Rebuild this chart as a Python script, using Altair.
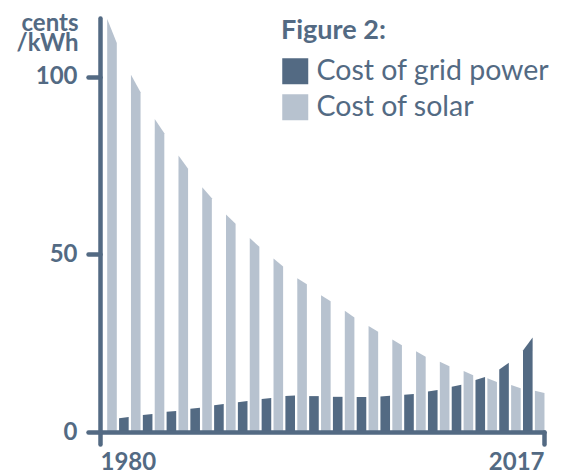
import altair as alt
import pandas as pd

# Values (cents/kWh), at the left and right edge of each bar
solar_start = [116.2, 100.5, 88.1, 77.8, 68.9, 61.2, 54.6, 48.8, 43.3, 38.5,
               34.1, 29.8, 26.0, 22.7, 19.8, 17.2, 15.1, 13.2, 11.6]
solar_end = [109.5, 95.6, 84.1, 74.1, 65.8, 58.6, 52.1, 46.6, 41.6, 36.8,
             32.2, 28.2, 24.4, 21.2, 18.5, 16.0, 14.1, 12.3, 11.0]
grid_start = [3.9, 4.8, 5.7, 6.55, 7.5, 8.4, 9.3, 10.1, 10.1, 9.9,
              9.85, 10.0, 10.5, 11.4, 12.7, 14.6, 17.6, 22.9]
grid_end = [4.2, 5.05, 5.9, 6.8, 7.85, 8.7, 9.6, 10.3, 10.1, 9.9,
            9.85, 10.2, 10.7, 11.8, 13.3, 15.5, 19.5, 26.6]

series_names = ["Cost of grid power", "Cost of solar"]
series_colors = ["#536a83", "#b7c2cf"]
y_ticks = [0, 50, 100]
x_ticks = [1980, 2017]
y_title = ["cents", "/kWh"]
legend_title = "Figure 2:"

DARK = "#536a83"
X0, STEP, BW = 1980.6, 0.99, 0.8

rows = []
for k, (a, b) in enumerate(zip(solar_start, solar_end)):
    left = X0 + STEP * (2 * k)
    rows.append(dict(bar=f"s{k}", series=series_names[1], x=left, y=a))
    rows.append(dict(bar=f"s{k}", series=series_names[1], x=left + BW, y=b))
for k, (a, b) in enumerate(zip(grid_start, grid_end)):
    left = X0 + STEP * (2 * k + 1)
    rows.append(dict(bar=f"g{k}", series=series_names[0], x=left, y=a))
    rows.append(dict(bar=f"g{k}", series=series_names[0], x=left + BW, y=b))
df = pd.DataFrame(rows)

axis_common = dict(
    domainColor=DARK, domainWidth=4.5, domainCap="round",
    tickColor=DARK, tickWidth=4.5, tickCap="round", tickSize=12,
    labelFont="Lato", labelFontWeight="bold", labelFontSize=24, labelColor=DARK,
    grid=False, zindex=1,
)

chart = alt.Chart(df).mark_area(interpolate="linear", opacity=1).encode(
    x=alt.X("x:Q",
            scale=alt.Scale(domain=[1980, 2017], nice=False, zero=False),
            axis=alt.Axis(values=x_ticks, format="d", title=None, labelFlush=True,
                          labelPadding=6, **axis_common)),
    y=alt.Y("y:Q", stack=None,
            scale=alt.Scale(domain=[0, 116.5], nice=False),
            axis=alt.Axis(values=y_ticks, title=y_title, titleAngle=0, titleAlign="right",
                          titleBaseline="alphabetic", titleX=-22, titleY=12,
                          titleFont="Lato", titleFontWeight="bold", titleFontSize=24,
                          titleColor=DARK, titleLineHeight=20,
                          labelPadding=11, **axis_common)),
    color=alt.Color("series:N",
                    scale=alt.Scale(domain=series_names, range=series_colors),
                    legend=alt.Legend(title=legend_title, orient="none", legendX=181, legendY=0,
                                      direction="vertical",
                                      titleFont="Lato", titleFontSize=27, titleFontWeight="bold",
                                      titleColor=DARK, titlePadding=12,
                                      labelFont="Lato", labelFontSize=28.5, labelColor=DARK,
                                      labelOffset=7, labelLimit=400,
                                      symbolType="square", symbolSize=676,
                                      symbolStrokeWidth=0, symbolOpacity=1,
                                      rowPadding=7, padding=0)),
    detail="bar:N",
).properties(
    width=444, height=414,
    autosize=alt.AutoSizeParams(type="none"),
    padding={"left": 92, "top": 10, "right": 15, "bottom": 40},
).configure_view(strokeWidth=0)

chart.save("out.html", embed_options={"renderer": "svg", "actions": False})
